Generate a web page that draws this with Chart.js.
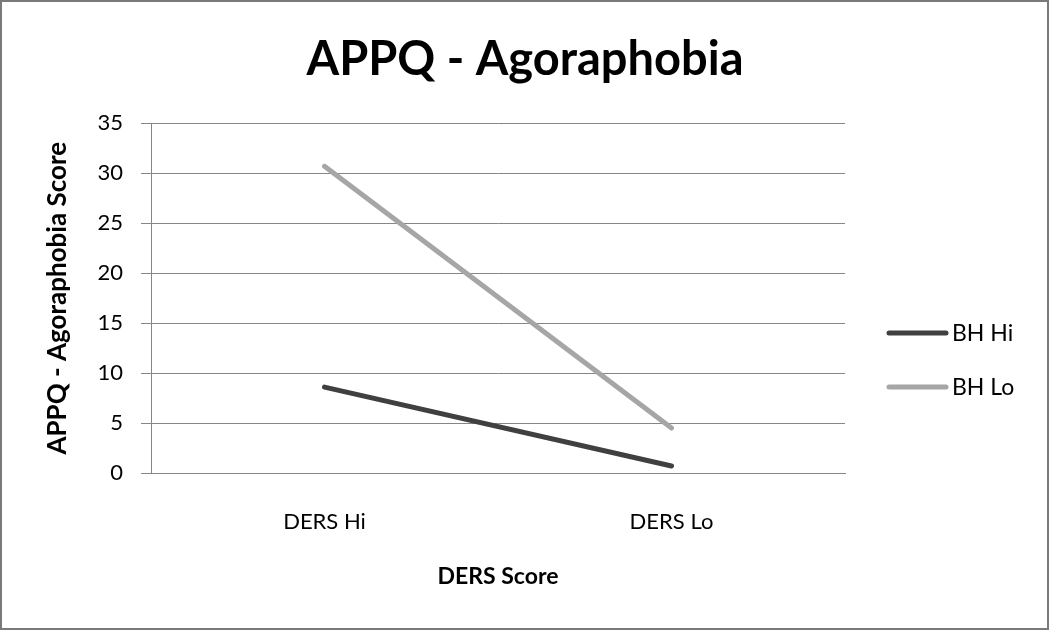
<!DOCTYPE html>
<html>
<head>
<meta charset="utf-8">
<script src="https://cdn.jsdelivr.net/npm/chart.js@4"></script>
<style>
  body { margin: 0; background: #fff; }
  #wrap { width: 1050px; height: 630px; }
</style>
</head>
<body>
<div id="wrap"><canvas id="appqChart" width="1050" height="630"></canvas></div>
<script>
// data
const categories = ['DERS Hi', 'DERS Lo'];
const bhHi = [8.6, 0.7];
const bhLo = [30.7, 4.5];
const seriesNames = ['BH Hi', 'BH Lo'];
const yTicks = [0, 5, 10, 15, 20, 25, 30, 35];

const FONT = 'Lato, "Open Sans", sans-serif';

// right-hand legend, Excel style: a short thick line then the label
const sideLegend = {
  id: 'sideLegend',
  afterDraw(chart) {
    const ctx = chart.ctx;
    ctx.save();
    chart.data.datasets.forEach(function(ds, i) {
      const y = 333 + i * 54;
      ctx.strokeStyle = ds.borderColor;
      ctx.lineWidth = 5;
      ctx.lineCap = 'round';
      ctx.beginPath();
      ctx.moveTo(889, y);
      ctx.lineTo(946, y);
      ctx.stroke();
      ctx.fillStyle = '#000';
      ctx.font = '23px ' + FONT;
      ctx.textBaseline = 'middle';
      ctx.fillText(ds.label, 952, y + 1);
    });
    // outer frame
    ctx.strokeStyle = '#7a7a7a';
    ctx.lineWidth = 2;
    ctx.strokeRect(1, 1, 1047, 628);
    ctx.restore();
  }
};

function createChart() {
  const ctx = document.getElementById('appqChart').getContext('2d');
  return new Chart(ctx, {
    type: 'line',
    data: {
      labels: categories,
      datasets: [{
        label: seriesNames[0],
        data: bhHi,
        borderColor: '#404040',
        borderWidth: 5,
        borderCapStyle: 'round',
        pointRadius: 0
      }, {
        label: seriesNames[1],
        data: bhLo,
        borderColor: '#a6a6a6',
        borderWidth: 5,
        borderCapStyle: 'round',
        pointRadius: 0
      }]
    },
    options: {
      responsive: false,
      animation: false,
      layout: { padding: 0 },
      plugins: {
        legend: { display: false },
        tooltip: { enabled: false },
        title: {
          display: true,
          text: 'APPQ - Agoraphobia',
          color: '#000',
          font: { family: FONT, size: 47, weight: 'bold' },
          padding: { top: 32, bottom: 35 }
        }
      },
      scales: {
        x: {
          offset: true,
          grid: { display: false, drawTicks: false },
          border: { color: '#868686', width: 1 },
          ticks: { color: '#000', font: { family: FONT, size: 22 }, padding: 36 },
          title: {
            display: true,
            text: 'DERS Score',
            color: '#000',
            font: { family: FONT, size: 23, weight: 'bold' },
            padding: { top: 4, bottom: 40 }
          },
          afterFit(scale) { scale.height = 157; }
        },
        y: {
          min: 0,
          max: 35,
          afterBuildTicks(scale) { scale.ticks = yTicks.map(v => ({ value: v })); },
          grid: { color: '#868686', tickLength: 10 },
          border: { color: '#868686', width: 1 },
          ticks: { color: '#000', font: { family: FONT, size: 22 }, padding: 18 },
          title: {
            display: true,
            text: 'APPQ - Agoraphobia Score',
            color: '#000',
            font: { family: FONT, size: 26, weight: 'bold' },
            padding: { top: 42 }
          },
          afterFit(scale) { scale.width = 151; }
        },
        // empty strip on the right that leaves room for the legend
        side: {
          position: 'right',
          display: true,
          grid: { display: false, drawTicks: false },
          border: { display: false },
          ticks: { display: false },
          afterFit(scale) { scale.width = 205; }
        }
      }
    },
    plugins: [sideLegend]
  });
}

document.addEventListener('DOMContentLoaded', function() {
  if (document.getElementById('appqChart')) {
    createChart();
  }
});
</script>
</body>
</html>
